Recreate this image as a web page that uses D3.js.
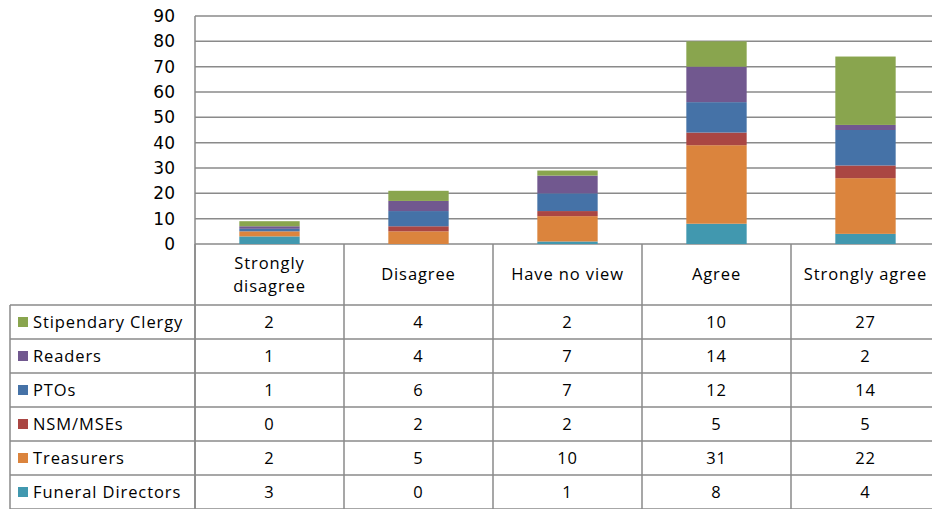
<!DOCTYPE html>
<html>
<head>
<meta charset="utf-8">
<script src="https://cdn.jsdelivr.net/npm/d3@7"></script>
<style>
  body { margin: 0; background: #fff; }
  svg { display: block; }
</style>
</head>
<body>
<script>
let categories = ["Strongly disagree", "Disagree", "Have no view", "Agree", "Strongly agree"]
let headerLines = [["Strongly", "disagree"], ["Disagree"], ["Have no view"], ["Agree"], ["Strongly agree"]]
// table order, top to bottom
let seriesNames = ["Stipendary Clergy", "Readers", "PTOs", "NSM/MSEs", "Treasurers", "Funeral Directors"]
let stipendary = [2, 4, 2, 10, 27]
let readers = [1, 4, 7, 14, 2]
let ptos = [1, 6, 7, 12, 14]
let nsm = [0, 2, 2, 5, 5]
let treasurers = [2, 5, 10, 31, 22]
let funeral = [3, 0, 1, 8, 4]
let seriesValues = [stipendary, readers, ptos, nsm, treasurers, funeral]
let seriesColors = ["#89a54e", "#71588f", "#4572a7", "#aa4643", "#db843d", "#4198af"]
let yTicks = [0, 10, 20, 30, 40, 50, 60, 70, 80, 90]

let W = 932, H = 509
let plotLeft = 195, plotTop = 16, plotBottom = 244
let colW = 149
let headerH = 61, rowH = 34
let tableLeft = 10
let gridColor = "#8a8a8a"

let svg = d3.select("body").append("svg").attr("width", W).attr("height", H)

let x = d3.scaleBand().domain(categories).range([plotLeft, plotLeft + colW * categories.length]).padding(0)
let y = d3.scaleLinear().domain([0, 90]).range([plotBottom, plotTop])

// gridlines
svg.append("g").selectAll("line")
  .data(yTicks)
  .join("line")
  .attr("x1", plotLeft).attr("x2", W)
  .attr("y1", d => y(d)).attr("y2", d => y(d))
  .attr("stroke", gridColor).attr("stroke-width", 1.5)

// y axis labels
let yAxis = svg.append("g")
  .attr("transform", "translate(" + (plotLeft - 20) + ",0)")
  .call(d3.axisLeft(y).tickValues(yTicks).tickSize(0).tickPadding(0))
yAxis.select(".domain").remove()
yAxis.selectAll("text")
  .attr("font-family", "Verdana, 'DejaVu Sans', sans-serif")
  .attr("font-size", 17)
  .attr("fill", "#000")

// stacked bars (bottom: Funeral Directors)
let rows = categories.map((c, i) => {
  let r = {cat: c}
  seriesNames.forEach((s, j) => r[s] = seriesValues[j][i])
  return r
})
let stackKeys = seriesNames.slice().reverse()
let stacked = d3.stack().keys(stackKeys)(rows)
let color = d3.scaleOrdinal().domain(seriesNames).range(seriesColors)
let barW = x.bandwidth() * 0.405

svg.append("g").selectAll("g")
  .data(stacked)
  .join("g")
  .attr("fill", d => color(d.key))
  .selectAll("rect")
  .data(d => d)
  .join("rect")
  .attr("x", d => x(d.data.cat) + (x.bandwidth() - barW) / 2)
  .attr("width", barW)
  .attr("y", d => y(d[1]))
  .attr("height", d => y(d[0]) - y(d[1]))

// axis line on the left
svg.append("line")
  .attr("x1", plotLeft).attr("x2", plotLeft)
  .attr("y1", plotTop).attr("y2", H - 1)
  .attr("stroke", gridColor).attr("stroke-width", 1.5)

// data table
let tableTop = plotBottom + headerH
let tableBottom = tableTop + rowH * seriesNames.length
let tg = svg.append("g")
  .attr("font-family", "'Open Sans', 'Noto Sans', sans-serif")
  .attr("font-size", 16.5)
  .attr("letter-spacing", 0.9)
  .attr("fill", "#000")

// header text
categories.forEach((c, i) => {
  let lines = headerLines[i]
  let cx = x(c) + x.bandwidth() / 2
  let cy = plotBottom + headerH / 2
  lines.forEach((t, k) => {
    tg.append("text")
      .attr("x", cx)
      .attr("y", cy + (k - (lines.length - 1) / 2) * 23)
      .attr("dy", "0.35em")
      .attr("text-anchor", "middle")
      .text(t)
  })
})

// vertical lines in table
let vx = categories.map(c => x(c) + x.bandwidth()).concat([plotLeft])
tg.selectAll("line.v")
  .data(vx)
  .join("line")
  .attr("x1", d => d).attr("x2", d => d)
  .attr("y1", plotBottom).attr("y2", tableBottom)
  .attr("stroke", gridColor).attr("stroke-width", 1.5)
tg.append("line")
  .attr("x1", tableLeft).attr("x2", tableLeft)
  .attr("y1", tableTop).attr("y2", tableBottom)
  .attr("stroke", gridColor).attr("stroke-width", 1.5)

// horizontal row lines
let hy = d3.range(seriesNames.length + 1).map(i => tableTop + i * rowH)
tg.selectAll("line.h")
  .data(hy)
  .join("line")
  .attr("x1", tableLeft).attr("x2", W)
  .attr("y1", d => d).attr("y2", d => d)
  .attr("stroke", gridColor).attr("stroke-width", 1.5)

// rows: legend key, name, values
seriesNames.forEach((s, j) => {
  let cy = tableTop + j * rowH + rowH / 2
  tg.append("rect")
    .attr("x", 18).attr("y", cy - 5)
    .attr("width", 10).attr("height", 10)
    .attr("fill", color(s))
  tg.append("text")
    .attr("x", 33).attr("y", cy)
    .attr("dy", "0.35em")
    .text(s)
  categories.forEach((c, i) => {
    tg.append("text")
      .attr("x", x(c) + x.bandwidth() / 2)
      .attr("y", cy)
      .attr("dy", "0.35em")
      .attr("text-anchor", "middle")
      .text(seriesValues[j][i])
  })
})
</script>
</body>
</html>
